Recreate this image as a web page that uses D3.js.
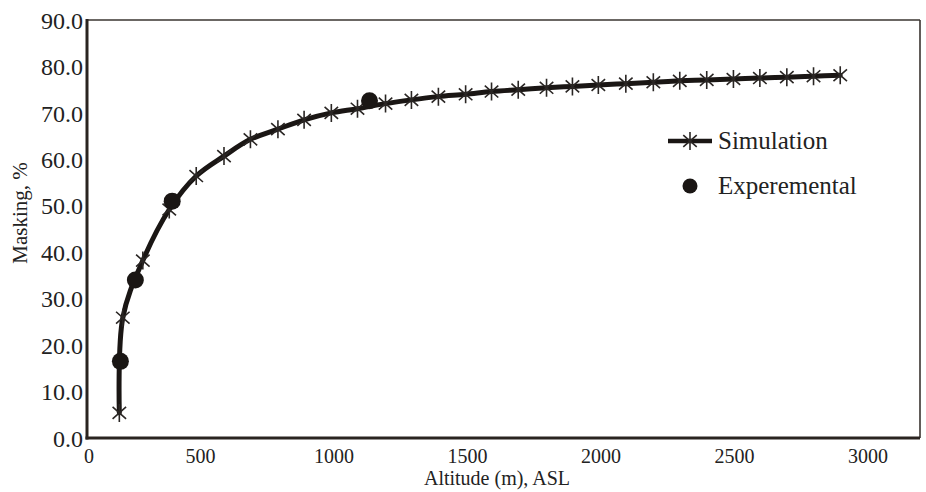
<!DOCTYPE html>
<html>
<head>
<meta charset="utf-8">
<script src="https://cdn.jsdelivr.net/npm/d3@7/dist/d3.min.js"></script>
<style>
  html, body { margin: 0; padding: 0; background: #fff; }
  svg { display: block; }
  text { font-family: "Liberation Serif", "DejaVu Serif", serif; fill: #222; }
</style>
</head>
<body>
<svg id="chart" width="926" height="492"></svg>
<script>
// ---- data ----
const simAltitude = [196, 209, 284, 383, 484, 588, 687, 790, 888, 990, 1088, 1193, 1290, 1391, 1493, 1590, 1690, 1796, 1893, 1990, 2093, 2196, 2295, 2396, 2496, 2595, 2696, 2796, 2896];
const simMasking  = [5.4, 25.9, 38.2, 49.2, 56.4, 60.7, 64.3, 66.5, 68.5, 70.0, 70.9, 72.0, 72.8, 73.5, 74.0, 74.6, 75.0, 75.4, 75.7, 76.0, 76.3, 76.6, 76.9, 77.1, 77.3, 77.5, 77.7, 77.9, 78.1];
const expAltitude = [200, 256, 394, 1133];
const expMasking  = [16.5, 34.0, 51.0, 72.6];
const xTicks = [0, 500, 1000, 1500, 2000, 2500, 3000];
const yTicks = [0, 10, 20, 30, 40, 50, 60, 70, 80, 90];
const seriesNames = ["Simulation", "Experemental"];
const xTitle = "Altitude (m), ASL";
const yTitle = "Masking, %";

const svg = d3.select("#chart");
const frameL = 87, frameR = 920, frameT = 20, frameB = 438;

const x = d3.scaleLinear().domain([0, 3000]).range([67, 868]);
const y = d3.scaleLinear().domain([0, 90]).range([frameB, frameT]);

// frame
svg.append("line").attr("x1", frameL).attr("x2", frameR).attr("y1", frameT).attr("y2", frameT)
  .attr("stroke", "#3a3430").attr("stroke-width", 1.6);
svg.append("line").attr("x1", frameR).attr("x2", frameR).attr("y1", frameT).attr("y2", frameB)
  .attr("stroke", "#3a3430").attr("stroke-width", 1.6);

// y axis
const yAxis = d3.axisLeft(y).tickValues(yTicks).tickSize(0).tickPadding(4).tickFormat(d3.format(".1f"));
const gy = svg.append("g").attr("transform", `translate(${frameL},0)`).call(yAxis);
gy.select(".domain").remove();
gy.selectAll("text").style("font-size", "24px").attr("fill", "#222").attr("dy", "0.34em");
svg.append("line").attr("x1", frameL).attr("x2", frameL).attr("y1", frameT - 1).attr("y2", frameB + 1.5)
  .attr("stroke", "#2a2420").attr("stroke-width", 3);

// x axis
const xAxis = d3.axisBottom(x).tickValues(xTicks).tickSize(0).tickPadding(11).tickFormat(d3.format("d"));
const gx = svg.append("g").attr("transform", `translate(0,${frameB})`).call(xAxis);
gx.select(".domain").remove();
gx.selectAll(".tick").attr("transform", d => `translate(${Math.max(x(d), frameL + 2)},0)`);
gx.selectAll("text").style("font-size", "20px").attr("fill", "#222");
svg.append("line").attr("x1", frameL - 1.5).attr("x2", frameR).attr("y1", frameB).attr("y2", frameB)
  .attr("stroke", "#2a2420").attr("stroke-width", 3);

// titles
svg.append("text").attr("x", 497).attr("y", 485)
  .attr("text-anchor", "middle").style("font-size", "20px").text(xTitle);
svg.append("text").attr("transform", `translate(27,213) rotate(-90)`)
  .attr("text-anchor", "middle").style("font-size", "21px").text(yTitle);

// simulation line
const simData = simAltitude.map((a, i) => [a, simMasking[i]]);
const line = d3.line().x(d => x(d[0])).y(d => y(d[1])).curve(d3.curveCatmullRom.alpha(0.5));
svg.append("path").datum(simData).attr("d", line)
  .attr("fill", "none").attr("stroke", "#1a1614").attr("stroke-width", 5).attr("stroke-linecap", "round");

function star(g, cx, cy, r) {
  const ang = Math.PI * 0.27;
  const a = r * Math.sin(ang), b = r * Math.cos(ang);
  g.append("path")
    .attr("d", `M${cx},${cy - r}L${cx},${cy + r}M${cx - a},${cy - b}L${cx + a},${cy + b}M${cx - a},${cy + b}L${cx + a},${cy - b}`)
    .attr("stroke", "#2a2624").attr("stroke-width", 1.6).attr("fill", "none");
}
const gStars = svg.append("g");
simData.forEach(d => star(gStars, x(d[0]), y(d[1]), 9));

// experimental dots
const expData = expAltitude.map((a, i) => [a, expMasking[i]]);
svg.append("g").selectAll("circle").data(expData).join("circle")
  .attr("cx", d => x(d[0])).attr("cy", d => y(d[1])).attr("r", 8.5)
  .attr("fill", "#1a1614");

// legend
const lg = svg.append("g");
lg.append("line").attr("x1", 668).attr("x2", 712).attr("y1", 141).attr("y2", 141)
  .attr("stroke", "#1a1614").attr("stroke-width", 4.5);
star(lg, 690, 141, 9);
lg.append("text").attr("x", 718).attr("y", 149).style("font-size", "25px").text(seriesNames[0]);
lg.append("circle").attr("cx", 690).attr("cy", 186).attr("r", 7.5).attr("fill", "#1a1614");
lg.append("text").attr("x", 718).attr("y", 194).style("font-size", "25px").text(seriesNames[1]);
</script>
</body>
</html>
